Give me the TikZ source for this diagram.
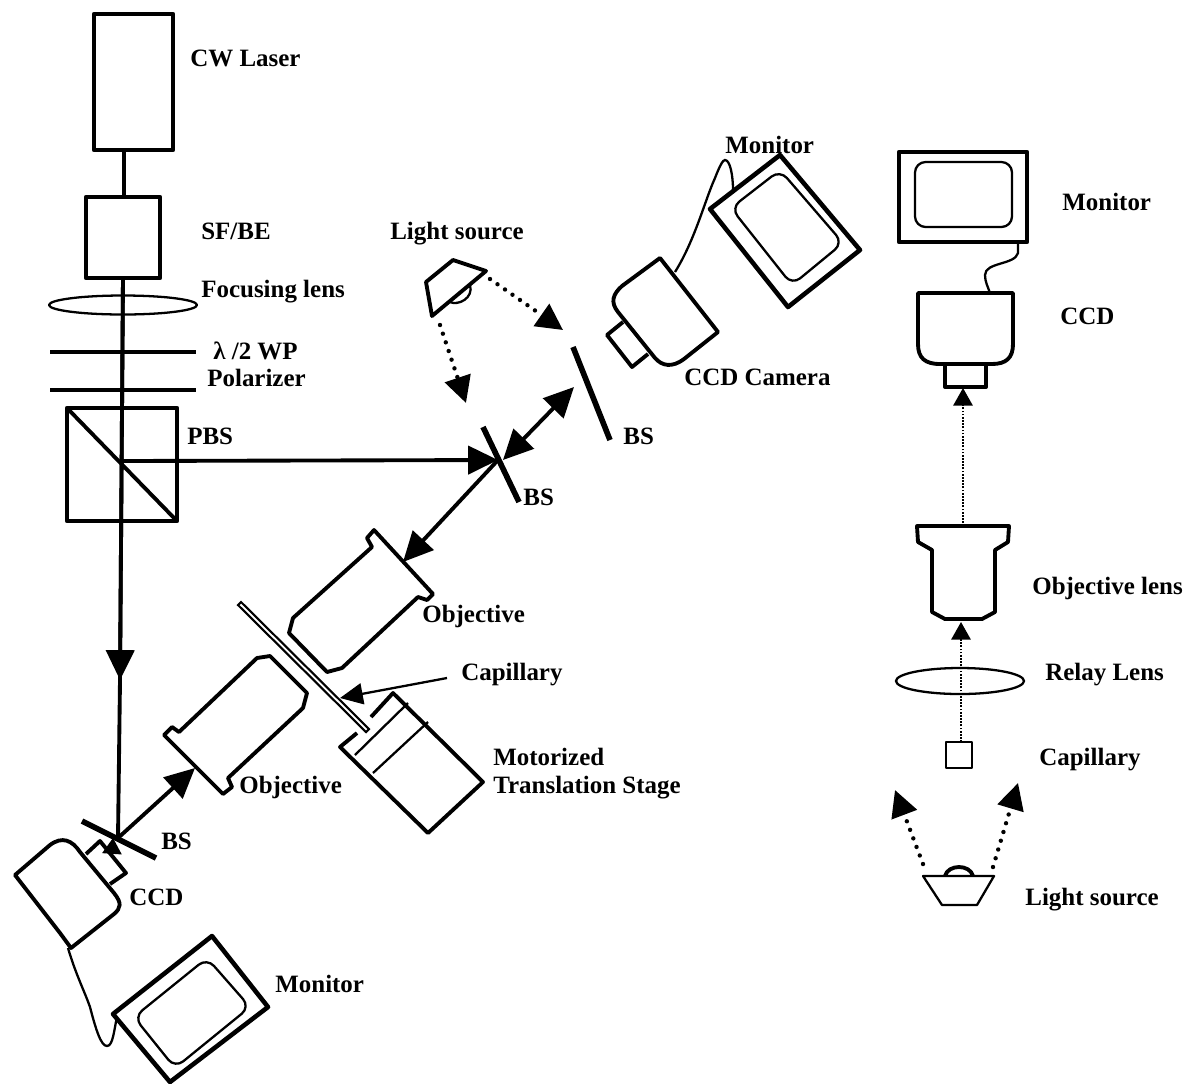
\documentclass[tikz,border=0pt]{standalone}
\usepackage{fontspec}
\setmainfont{Liberation Serif}
\usetikzlibrary{arrows.meta}

\begin{document}
\begin{tikzpicture}[x=.02cm,y=-.02cm,
  heavy/.style={line width=2.6pt,line join=round},
  thick part/.style={line width=2.2pt,line join=round},
  thin part/.style={line width=1.3pt,line join=round},
  mirror/.style={line width=3.2pt},
  beam/.style={line width=2.2pt},
  bigtip/.style={-{Triangle[length=17pt,width=16pt]}},
  bothtip/.style={{Triangle[length=17pt,width=16pt]}-{Triangle[length=17pt,width=16pt]}},
  lamp ray/.style={line width=2.5pt,line cap=round,dash pattern=on 0pt off 5.2pt,
    -{Triangle[length=15pt,width=15pt]}},
  view ray/.style={line width=1pt,dash pattern=on 1pt off .8pt,
    -{Triangle[length=10pt,width=11pt]}},
  label/.style={anchor=base west,inner sep=0pt,font=\fontsize{14.2}{16}\selectfont\bfseries}]
\useasboundingbox (0,0) rectangle (1186,1083);
\coordinate (las1) at (124,150);
\coordinate (sf1) at (124,197);
\coordinate (sf2) at (123,278);
\coordinate (pbs1) at (123,461);
\coordinate (ar1) at (120,680);
\coordinate (bs3) at (118,838);
\coordinate (bs1) at (498,460);
\coordinate (bs1a) at (503,460);
\coordinate (bs2a) at (574,387);
\coordinate (obj1) at (403,562);
\coordinate (obj2) at (195,768);
\coordinate (ccd1) at (112,853);
\coordinate (ccd2) at (113,838);
\coordinate (cap1) at (447,678);
\coordinate (cap2) at (340,698);
\coordinate (src1) at (490,279);
\coordinate (src2) at (563,330);
\coordinate (src3) at (440,325);
\coordinate (src4) at (466,403);
\coordinate (r1) at (963,523);
\coordinate (r2) at (963,388);
\coordinate (r3) at (961,742);
\coordinate (r4) at (961,622);
\coordinate (r5) at (923,864);
\coordinate (r6) at (895,790);
\coordinate (r7) at (993,867);
\coordinate (r8) at (1018,783);
% left column
\draw[heavy] (94,14) rectangle (173,150);
\draw[heavy] (86,197) rectangle (160,278);
\draw[beam] (las1)--(sf1);
\draw[beam] (sf2)--(ar1);
\draw[beam,bigtip] (sf2)--(ar1);
\draw[beam] (ar1)--(bs3);
\draw[thin part] (123,305) ellipse [x radius=74,y radius=9.5];
\draw[heavy] (50,352)--(196,352);
\draw[heavy] (50,390)--(196,390);
\draw[heavy] (67,408) rectangle (177,521);
\draw[thick part] (67,408)--(177,521);
\draw[beam,bigtip] (pbs1)--(bs1);
% beam splitters
\draw[mirror] (483,427)--(519,502);
\draw[mirror] (573,347)--(610,440);
\draw[mirror] (82,821)--(156,858);
\draw[beam,bothtip] (bs1a)--(bs2a);
\draw[beam,bigtip] (bs1)--(obj1);
\draw[beam,bigtip] (bs3)--(obj2);
\draw[line width=1pt,-{Triangle[length=9pt,width=11pt]}] (ccd1)--(ccd2);
% objectives, capillary, stage
\draw[thick part] (374,530)--(433,594)--(427,600)--(418,597)--(342,668)--(327,672)--(289,633)--(293,618)
  --(372,547)--(367,538)--cycle;
\draw[thick part] (223,794)--(232,787)--(228,778)--(303,708)--(307,693)--(270,656)--(257,658)--(179,732)
  --(172,727)--(164,735)--cycle;
\draw[line width=1.2pt] (241,602)--(369,729)--(366,732)--(238,605)--cycle;
\draw[line width=1.3pt,-{Triangle[length=13pt,width=12pt]}] (cap1)--(cap2);
\draw[thick part] (371,717)--(393,693)--(483,782)--(428,833)--(340,747)--(357,733);
\draw[thin part] (408,703)--(355,755);
\draw[thin part] (428,722)--(373,773);
% camera and monitor, lower left
\draw[thick part] (15,875)--(50,845) .. controls (62,836) and (72,840) .. (80,852)
  --(114,893) .. controls (122,903) and (121,908) .. (114,914)--(71,948)--(60,933)--cycle;
\draw[thick part] (86,854)--(100,841)--(126,873)--(110,884);
\draw[line width=1.3pt] (68,948) .. controls (76,975) and (84,990) .. (90,1007)
  .. controls (96,1030) and (101,1046) .. (107,1046) .. controls (113,1046) and (114,1030) .. (117,1017);
\draw[heavy] (212,936)--(268,1007)--(170,1082)--(113,1014)--cycle;
\draw[thin part,rounded corners=6pt] (207,958)--(250,1007)--(175,1068)--(134,1017)--cycle;
% light source, upper
\draw[thick part] (426,282)--(453,260)--(486,271)--(432,316)--cycle;
\draw[thin part] (450,302) .. controls (458,306) and (474,298) .. (470,285);
\draw[lamp ray] (src1)--(src2);
\draw[lamp ray] (src3)--(src4);
% camera and monitor, upper right
\draw[thick part] (660,258)--(718,332)--(684,359) .. controls (672,368) and (662,366) .. (655,358)
  --(618,312) .. controls (610,302) and (613,294) .. (622,286)--cycle;
\draw[thick part] (623,322)--(607,335)--(632,367)--(648,354);
\draw[line width=1.3pt] (675,272) .. controls (695,240) and (705,200) .. (715,178)
  .. controls (720,165) and (723,160) .. (725,160) .. controls (730,160) and (733,175) .. (733,190);
\draw[heavy] (710,209)--(780,155)--(860,250)--(788,307)--cycle;
\draw[thin part,rounded corners=6pt] (731,208)--(780,170)--(843,243)--(792,285)--cycle;
% right column
\draw[heavy] (899,152) rectangle (1027,242);
\draw[thin part,rounded corners=6pt] (915,162) rectangle (1012,227);
\draw[thin part] (1018,243)--(1018,253) .. controls (1015,265) and (985,262) .. (985,275) .. controls (985,282) and (988,287) .. (990,293);
\draw[thick part] (918,293)--(1013,293)--(1013,344) .. controls (1013,358) and (1006,364) .. (992,364)
  --(940,364) .. controls (925,364) and (918,358) .. (918,344)--cycle;
\draw[thick part] (945,365)--(945,387)--(986,387)--(986,365);
\draw[view ray] (r1)--(r2);
\draw[thick part] (917,526)--(1009,526)--(1008,542)--(995,550)--(995,612)--(982,619)--(945,619)--(932,612)
  --(932,550)--(918,542)--cycle;
\draw[view ray] (r3)--(r4);
\draw[thin part] (960,681) ellipse [x radius=64,y radius=13];
\draw[thin part] (946,742) rectangle (972,768);
\draw[thin part] (923,876)--(994,876)--(977,905)--(942,905)--cycle;
\draw[thick part] (945,876) .. controls (948,864) and (970,864) .. (973,876);
\draw[lamp ray] (r5)--(r6);
\draw[lamp ray] (r7)--(r8);
% labels
\node[label] (t1) at (190,66) {CW Laser};
\node[label] (t2) at (201,239) {SF/BE};
\node[label] (t3) at (201,297) {Focusing lens};
\node[label] (t4) at (213,359) {λ /2 WP};
\node[label] (t5) at (207,386) {Polarizer};
\node[label] (t6) at (187,444) {PBS};
\node[label] (t7) at (390,239) {Light source};
\node[label] (t8) at (725,153) {Monitor};
\node[label] (t9) at (684,385) {CCD Camera};
\node[label] (t10) at (623,444) {BS};
\node[label] (t11) at (523,505) {BS};
\node[label] (t12) at (422,622) {Objective};
\node[label] (t13) at (461,680) {Capillary};
\node[label] (t14) at (239,793) {Objective};
\node[label] (t15) at (493,765) {Motorized};
\node[label] (t16) at (493,793) {Translation Stage};
\node[label] (t17) at (161,849) {BS};
\node[label] (t18) at (129,905) {CCD};
\node[label] (t19) at (275,992) {Monitor};
\node[label] (t20) at (1062,210) {Monitor};
\node[label] (t21) at (1060,324) {CCD};
\node[label] (t22) at (1032,594) {Objective lens};
\node[label] (t23) at (1045,680) {Relay Lens};
\node[label] (t24) at (1039,765) {Capillary};
\node[label] (t25) at (1025,905) {Light source};
\end{tikzpicture}
\end{document}
